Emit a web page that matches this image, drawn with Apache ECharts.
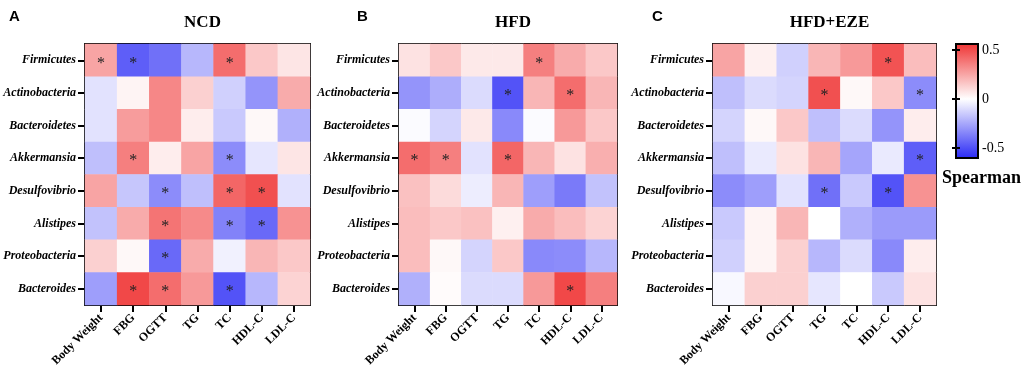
<!DOCTYPE html>
<html>
<head>
<meta charset="utf-8">
<script src="https://cdn.jsdelivr.net/npm/echarts@6/dist/echarts.min.js"></script>
<style>html,body{margin:0;padding:0;background:#fff}#c{width:1021px;height:376px}</style>
</head>
<body>
<div id="c"></div>
<script>
const taxa = ['Firmicutes','Actinobacteria','Bacteroidetes','Akkermansia','Desulfovibrio','Alistipes','Proteobacteria','Bacteroides'];
const params = ['Body Weight','FBG','OGTT','TG','TC','HDL-C','LDL-C'];
const panelTitles = ['NCD','HFD','HFD+EZE'];
const panelLetters = ['A','B','C'];
const colorbarTicks = [-0.5, 0, 0.5];

// Spearman r (rows = taxa, cols = params)
const ncd = [
  [ 0.25,-0.45,-0.40,-0.20, 0.40, 0.15, 0.07],
  [-0.08, 0.03, 0.33, 0.13,-0.13,-0.30, 0.23],
  [-0.08, 0.27, 0.33, 0.05,-0.15, 0.02,-0.22],
  [-0.18, 0.35, 0.05, 0.25,-0.32,-0.07, 0.07],
  [ 0.25,-0.16,-0.32,-0.18, 0.42, 0.48,-0.08],
  [-0.17, 0.23, 0.38, 0.32,-0.35,-0.42, 0.30],
  [ 0.13, 0.02,-0.42, 0.23,-0.04, 0.20, 0.15],
  [-0.27, 0.50, 0.40, 0.28,-0.48,-0.20, 0.12]
];
const ncdSig = [
  [1,1,0,0,1,0,0],
  [0,0,0,0,0,0,0],
  [0,0,0,0,0,0,0],
  [0,1,0,0,1,0,0],
  [0,0,1,0,1,1,0],
  [0,0,1,0,1,1,0],
  [0,0,1,0,0,0,0],
  [0,1,1,0,1,0,0]
];
const hfd = [
  [ 0.08, 0.15, 0.06, 0.06, 0.35, 0.23, 0.15],
  [-0.30,-0.23,-0.10,-0.48, 0.20, 0.40, 0.20],
  [-0.01,-0.12, 0.06,-0.33,-0.01, 0.28, 0.15],
  [ 0.40, 0.35,-0.08, 0.42, 0.20, 0.08, 0.22],
  [ 0.17, 0.10,-0.05, 0.20,-0.27,-0.37,-0.17],
  [ 0.18, 0.15, 0.17, 0.04, 0.23, 0.18, 0.12],
  [ 0.18, 0.02,-0.12, 0.15,-0.33,-0.32,-0.20],
  [-0.22, 0.01,-0.10,-0.10, 0.28, 0.50, 0.35]
];
const hfdSig = [
  [0,0,0,0,1,0,0],
  [0,0,0,1,0,1,0],
  [0,0,0,0,0,0,0],
  [1,1,0,1,0,0,0],
  [0,0,0,0,0,0,0],
  [0,0,0,0,0,0,0],
  [0,0,0,0,0,0,0],
  [0,0,0,0,0,1,0]
];
const eze = [
  [ 0.25, 0.04,-0.13, 0.20, 0.28, 0.47, 0.18],
  [-0.18,-0.10,-0.12, 0.48, 0.02, 0.15,-0.32],
  [-0.12, 0.02, 0.15,-0.18,-0.10,-0.30, 0.05],
  [-0.18,-0.06, 0.08, 0.20,-0.25,-0.06,-0.45],
  [-0.32,-0.27,-0.08,-0.40,-0.15,-0.48, 0.30],
  [-0.15, 0.03, 0.20, 0.00,-0.22,-0.28,-0.28],
  [-0.13, 0.03, 0.13,-0.20,-0.10,-0.33, 0.05],
  [-0.02, 0.13, 0.13,-0.07, 0.00,-0.15, 0.08]
];
const ezeSig = [
  [0,0,0,0,0,1,0],
  [0,0,0,1,0,0,1],
  [0,0,0,0,0,0,0],
  [0,0,0,0,0,0,1],
  [0,0,0,1,0,1,0],
  [0,0,0,0,0,0,0],
  [0,0,0,0,0,0,0],
  [0,0,0,0,0,0,0]
];

const RED = [238, 36, 36], BLUE = [40, 40, 245], WHITE = [255,255,255];
const VMIN = -0.6, VMAX = 0.6;
const CB_MIN = -0.6, CB_MAX = 0.56;
function mix(a, b, t){ return 'rgb(' + a.map((v,i)=>Math.round(v + (b[i]-v)*t)).join(',') + ')'; }

const serif = "'Liberation Serif','Times New Roman',serif";
const panels = [ncd, hfd, eze];
const sigs = [ncdSig, hfdSig, ezeSig];
const gridBoxes = [
  {left: 85, top: 44, width: 225, height: 261},
  {left: 399, top: 44, width: 218, height: 261},
  {left: 713, top: 44, width: 223, height: 261}
];

const grids = [], xAxes = [], yAxes = [], series = [], titles = [];
panels.forEach((m, i) => {
  const g = gridBoxes[i];
  grids.push(Object.assign({containLabel: false}, g));
  const lineStyle = {color: '#000', width: 2};
  xAxes.push({
    type: 'category', data: params, gridIndex: i, position: 'bottom',
    axisLine: {show: true, lineStyle}, 
    axisTick: {show: true, alignWithLabel: true, length: 7, lineStyle: {color:'#000', width: 2}},
    axisLabel: {rotate: 45, margin: 11, interval: 0, color: '#000', fontFamily: serif, fontWeight: 'bold', fontSize: 12},
    splitLine: {show: false}
  });
  xAxes.push({
    type: 'category', data: params, gridIndex: i, position: 'top',
    axisLine: {show: true, lineStyle}, axisTick: {show: false}, axisLabel: {show: false}, splitLine: {show: false}
  });
  yAxes.push({
    type: 'category', data: taxa, gridIndex: i, inverse: true, position: 'left',
    axisLine: {show: true, lineStyle},
    axisTick: {show: true, alignWithLabel: true, length: 7, lineStyle: {color:'#000', width: 2}},
    axisLabel: {margin: 9, interval: 0, color: '#000', fontFamily: serif, fontWeight: 'bold', fontStyle: 'italic', fontSize: 12},
    splitLine: {show: false}
  });
  yAxes.push({
    type: 'category', data: taxa, gridIndex: i, inverse: true, position: 'right',
    axisLine: {show: true, lineStyle}, axisTick: {show: false}, axisLabel: {show: false}, splitLine: {show: false}
  });
  const data = [];
  m.forEach((row, r) => row.forEach((v, c) => data.push([c, r, v, sigs[i][r][c]])));
  series.push({
    type: 'heatmap', xAxisIndex: 2*i, yAxisIndex: 2*i, data,
    label: {show: true, formatter: p => p.data[3] ? '*' : '', color: '#222', fontSize: 16, fontFamily: serif, offset: [0, 3]},
    itemStyle: {borderWidth: 0},
    emphasis: {disabled: true}
  });
  titles.push({text: panelTitles[i], left: g.left + g.width/2, top: 9, textAlign: 'center',
    textStyle: {fontFamily: serif, fontWeight: 'bold', fontSize: 17, color: '#000'}});
});
const letterX = [4, 352, 647];
panelLetters.forEach((t, i) => titles.push({text: t, left: letterX[i], top: 4,
  textStyle: {fontFamily: "'Liberation Sans',Arial,sans-serif", fontWeight: 'bold', fontSize: 15, color: '#000'}}));
titles.push({text: 'Spearman', left: 937, top: 164, textStyle: {fontFamily: serif, fontWeight: 'bold', fontSize: 18, color: '#000'}});

// colorbar grid
const zeroOff = CB_MAX / (CB_MAX - CB_MIN);
grids.push({left: 956, top: 44, width: 22, height: 114, show: true, borderColor: '#000', borderWidth: 2,
  backgroundColor: {type: 'linear', x: 0, y: 0, x2: 0, y2: 1, colorStops: [
    {offset: 0, color: mix(WHITE, RED, CB_MAX / VMAX)},
    {offset: zeroOff, color: 'rgb(255,255,255)'},
    {offset: 1, color: mix(WHITE, BLUE, CB_MIN / VMIN)}
  ]}});
xAxes.push({type: 'value', gridIndex: 3, show: false, min: 0, max: 1});
yAxes.push({type: 'value', gridIndex: 3, min: CB_MIN, max: CB_MAX, position: 'right',
  axisLine: {show: false}, splitLine: {show: false},
  axisTick: {show: true, inside: true, length: 4, customValues: colorbarTicks, lineStyle: {color: '#000', width: 2}},
  axisLabel: {show: true, customValues: colorbarTicks, margin: 4, color: '#000', fontFamily: serif, fontSize: 14,
    formatter: v => String(v)}});
yAxes.push({type: 'value', gridIndex: 3, min: CB_MIN, max: CB_MAX, position: 'left',
  axisLine: {show: false}, splitLine: {show: false}, axisLabel: {show: false},
  axisTick: {show: true, inside: true, length: 4, customValues: colorbarTicks, lineStyle: {color: '#000', width: 2}}});

const chart = echarts.init(document.getElementById('c'), null, {renderer: 'canvas'});
chart.setOption({
  animation: false,
  backgroundColor: '#fff',
  title: titles,
  grid: grids,
  xAxis: xAxes,
  yAxis: yAxes,
  visualMap: {type: 'continuous', show: false, min: VMIN, max: VMAX, dimension: 2, seriesIndex: [0,1,2],
    inRange: {color: [mix(WHITE, BLUE, 1), '#ffffff', mix(WHITE, RED, 1)]}},
  series
});
</script>
</body>
</html>
